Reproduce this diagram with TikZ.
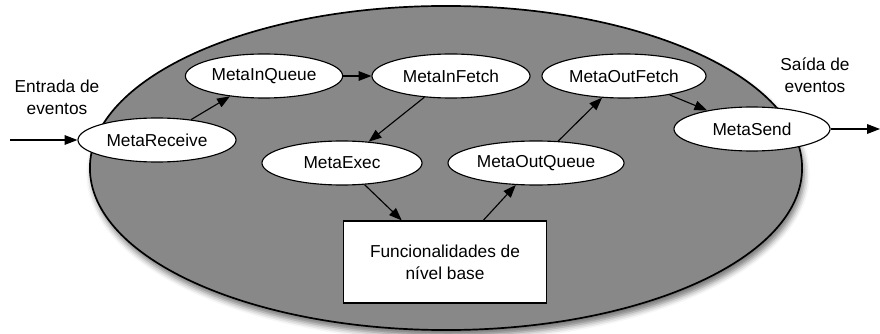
\documentclass[tikz,border=0pt]{standalone}
\usepackage{fontspec}
\setmainfont{Liberation Sans}
\usetikzlibrary{positioning,arrows.meta,shapes.geometric,shadows.blur}
\definecolor{CoreGray}{RGB}{136,136,136}
\newcommand{\diagfont}{\fontsize{12.3}{15.6}\selectfont}
\tikzset{
  flow/.style={-{Triangle[length=3.2mm,width=2.4mm]},thick},
  core/.style={ellipse,draw,line width=1.2pt,fill=CoreGray,inner sep=0pt,
    blur shadow={shadow xshift=1.5pt,shadow yshift=-4pt,shadow blur radius=4pt,shadow opacity=55}},
  stage/.style={ellipse,draw,thick,fill=white,inner sep=0pt,
    minimum height=1.1cm,font=\diagfont},
  basebox/.style={rectangle,draw,thick,fill=white,align=center,
    minimum width=5.08cm,minimum height=2.05cm,font=\diagfont},
  lbl/.style={align=center,font=\diagfont}
}

\begin{document}
\begin{tikzpicture}[x=0.025cm,y=-0.025cm]
  \useasboundingbox (0,0) rectangle (880,334);
  % big background ellipse
  \node[core,minimum width=17.8cm,minimum height=8.1cm] (system) at (446,168) {};
  % stages
  \node[stage,minimum width=3.95cm] (receive) at (157,140) {MetaReceive};
  \node[stage,minimum width=3.93cm] (inqueue) at (264,76) {MetaInQueue};
  \node[stage,minimum width=3.95cm] (infetch) at (451,76) {MetaInFetch};
  \node[stage,minimum width=4.1cm] (outfetch) at (624,76) {MetaOutFetch};
  \node[stage,minimum width=3.9cm] (send) at (752,129) {MetaSend};
  \node[stage,minimum width=4.0cm] (exec) at (342,163) {MetaExec};
  \node[stage,minimum width=4.4cm] (outqueue) at (536,163) {MetaOutQueue};
  \node[basebox] (base) at (445,262) {Funcionalidades de\\nível base};
  % outside labels
  \node[lbl] (inlabel) at (57,97) {Entrada de\\eventos};
  \node[lbl] (outlabel) at (815,75) {Saída de\\eventos};
  \coordinate (inend) at (10,140);
  \coordinate (outend) at (880,129);
  % connectors
  \draw[flow] (inend) -- (receive);
  \draw[flow] (receive) -- (inqueue);
  \draw[flow] (inqueue) -- (infetch);
  \draw[flow] (infetch) -- (exec);
  \draw[flow] (exec) -- (base);
  \draw[flow] (base) -- (outqueue);
  \draw[flow] (outqueue) -- (outfetch);
  \draw[flow] (outfetch) -- (send);
  \draw[flow] (send) -- (outend);
\end{tikzpicture}
\end{document}
